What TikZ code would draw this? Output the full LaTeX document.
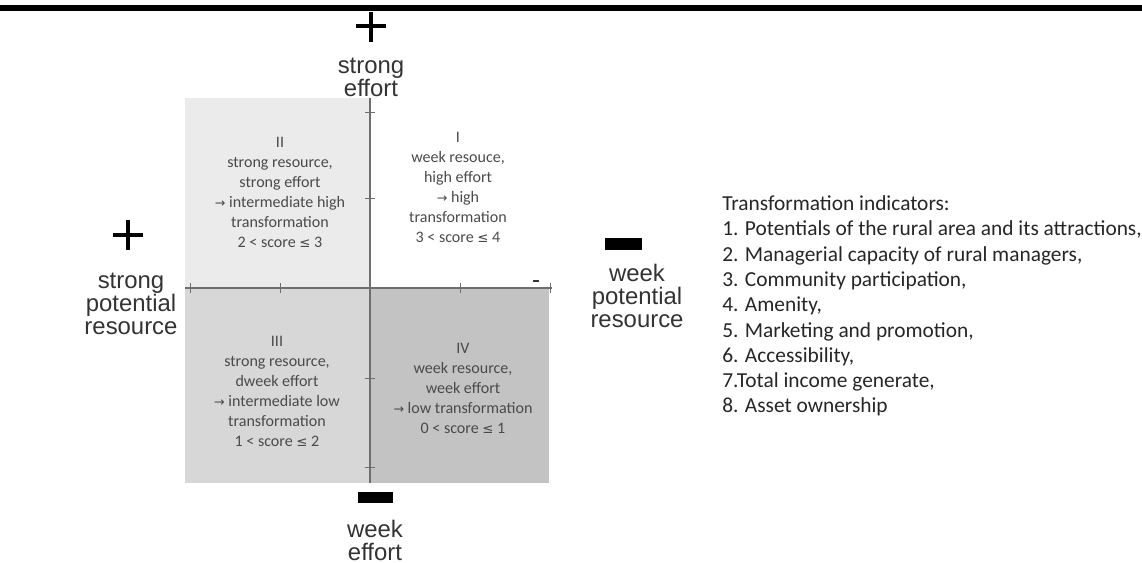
\documentclass[tikz,border=0pt]{standalone}
\usepackage{fontspec}
\setmainfont{Carlito}
\newfontfamily\arialfont{Liberation Sans}
\newfontfamily\simbfont{DejaVu Sans}
\usepackage{tikz}
\usetikzlibrary{positioning}

\definecolor{quadII}{HTML}{EBEBEB}
\definecolor{quadIII}{HTML}{D7D7D7}
\definecolor{quadIV}{HTML}{C3C3C3}
\definecolor{eixocor}{HTML}{6E6E6E}
\definecolor{textocor}{HTML}{4A4A4A}

\newcommand{\seta}{{\simbfont\fontsize{9}{9}\selectfont →}}
\newcommand{\menorig}{{\simbfont\fontsize{9.5}{9.5}\selectfont ≤}}

\tikzset{
  rotulo/.style={font=\arialfont\fontsize{17}{16.4}\selectfont, text=black!80, align=center, inner sep=0pt},
  quadtexto/.style={font=\fontsize{11.4}{14.2}\selectfont, text=textocor, align=center, inner sep=0pt},
  eixo/.style={draw=eixocor, line width=0.8pt},
  marca/.style={draw=eixocor, line width=0.6pt},
  sinal/.style={draw=black, line width=2.6pt},
}

\begin{document}
\begin{tikzpicture}[x=0.025cm, y=-0.025cm]
        \useasboundingbox (0,0) rectangle (1142,563);

        % barra do topo
        \fill[black] (0,5) rectangle (1142,11);

        % Quadrantes
        \fill[quadII] (185,98) rectangle (370,288);
        \fill[quadIII] (185,288) rectangle (370,483);
        \fill[quadIV] (370,288) rectangle (549,483);

        % Eixos
        \coordinate (eixoTopo) at (370,98);
        \coordinate (eixoBase) at (370,483);
        \coordinate (eixoEsq) at (185,288);
        \coordinate (eixoDir) at (552,288);
        \draw[eixo] (eixoTopo) -- (eixoBase);
        \draw[eixo] (eixoEsq) -- (eixoDir);

        \draw[marca] (190,283) -- (190,293);
        \draw[marca] (280,283) -- (280,293);
        \draw[marca] (460,283) -- (460,293);
        \draw[marca] (550,283) -- (550,293);
        \draw[marca] (365,112) -- (375,112);
        \draw[marca] (365,198) -- (375,198);
        \draw[marca] (365,378) -- (375,378);
        \draw[marca] (365,467) -- (375,467);
        \draw[black!80, line width=1pt] (533,281) -- (539,281);

        % Textos dos quadrantes
        \node[quadtexto] (q2) at (280,192) {II\\strong resource,\\strong effort\\\seta\ intermediate high\\transformation\\2 < score \menorig\ 3};
        \node[quadtexto] (q1) at (458,187) {I\\week resouce,\\high effort\\\seta\ high\\transformation\\3 < score \menorig\ 4};
        \node[quadtexto] (q3) at (277,391) {III\\strong resource,\\dweek effort\\\seta\ intermediate low\\transformation\\1 < score \menorig\ 2};
        \node[quadtexto] (q4) at (463,388) {IV\\week resource,\\week effort\\\seta\ low transformation\\0 < score \menorig\ 1};

        % Sinais
        \draw[sinal] (371,12) -- (371,42);
        \draw[sinal] (356,26) -- (386,26);
        \draw[sinal] (128,220) -- (128,250);
        \draw[sinal] (113,235) -- (143,235);
        \fill[black] (605,238) rectangle (642,250);
        \fill[black] (358,492) rectangle (393,503);

        % Rotulos
        \node[rotulo] (rotTopo) at (371,77) {strong\\effort};
        \node[rotulo] (rotEsq) at (131,304) {strong\\potential\\resource};
        \node[rotulo] (rotDir) at (637,296) {week\\potential\\resource};
        \node[rotulo] (rotBase) at (375,540) {week\\effort};

        % Indicadores
        \node[anchor=west, align=left, inner sep=0pt, text=black!85,
              font=\fontsize{15.2}{18}\selectfont] (indicadores) at (722,306)
          {Transformation indicators:\\
           1. Potentials of the rural area and its attractions,\\
           2. Managerial capacity of rural managers,\\
           3. Community participation,\\
           4. Amenity,\\
           5. Marketing and promotion,\\
           6. Accessibility,\\
           7.Total income generate,\\
           8. Asset ownership};
    \end{tikzpicture}
\end{document}
